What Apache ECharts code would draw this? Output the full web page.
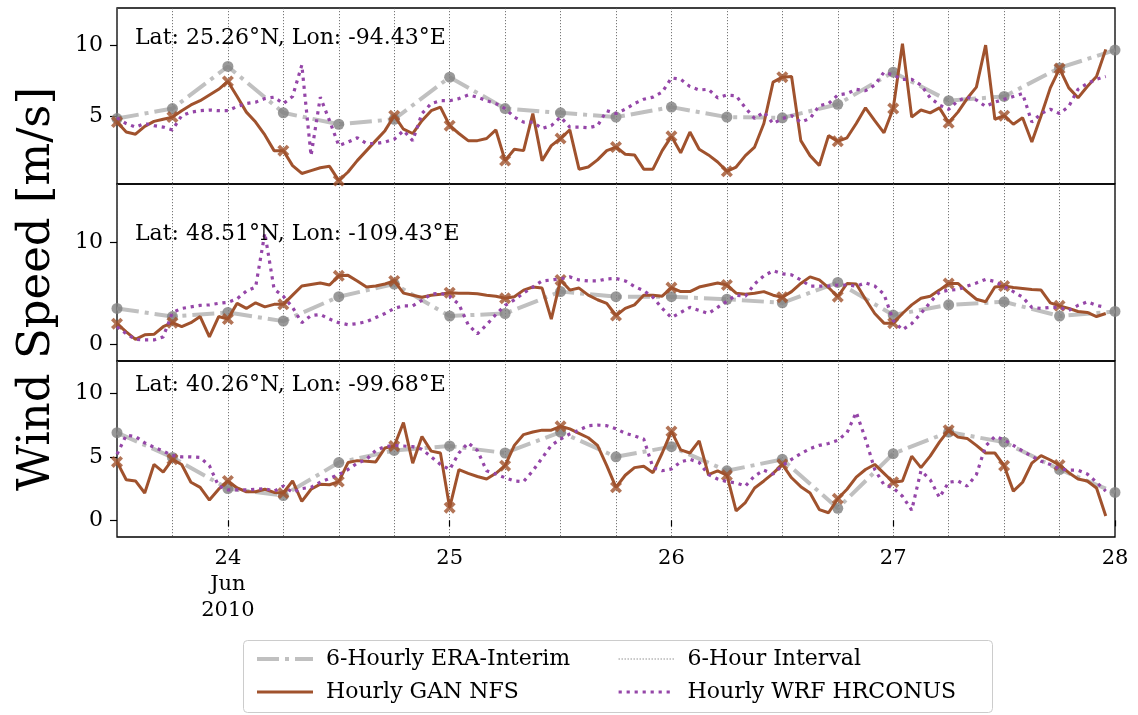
<!DOCTYPE html>
<html>
<head>
<meta charset="utf-8">
<script src="https://cdn.jsdelivr.net/npm/echarts@6/dist/echarts.min.js"></script>
<style>
  html, body { margin: 0; padding: 0; background: #fff; }
  #chart { width: 1138px; height: 715px; }
</style>
</head>
<body>
<div id="chart"></div>
<script>
// Hourly timeline from 2010-06-23 12:00 UTC to 2010-06-28 00:00 UTC
const hourLabels = [];
for (let h = 0; h <= 108; h++) {
  const d = new Date(Date.UTC(2010, 5, 23, 12 + h));
  hourLabels.push(d.toISOString().slice(0, 16).replace('T', ' '));
}
const dayTickLabels = ['24\nJun\n2010', '25', '26', '27', '28'];
const siteLabels = [
  'Lat: 25.26°N, Lon: -94.43°E',
  'Lat: 48.51°N, Lon: -109.43°E',
  'Lat: 40.26°N, Lon: -99.68°E'
];

// 6-hourly ERA-Interim wind speed (m/s), one value every 6 h
const eraTop = [4.85, 5.55, 8.5, 5.25, 4.45, 4.8, 7.75, 5.55, 5.25, 4.95, 5.65, 4.95, 4.9, 5.85, 8.1, 6.1, 6.4, 8.4, 9.65];
const eraMid = [3.5, 2.7, 3.1, 2.25, 4.65, 5.9, 2.75, 3.0, 5.15, 4.65, 4.65, 4.4, 4.05, 6.05, 2.85, 3.85, 4.15, 2.75, 3.2];
const eraBot = [6.9, 4.95, 2.5, 1.95, 4.55, 5.5, 5.85, 5.3, 6.95, 5.0, 5.8, 3.9, 4.8, 0.95, 5.25, 6.95, 6.15, 4.0, 2.2];

// Hourly GAN NFS wind speed (m/s)
const ganTop = [
  4.6, 3.9, 3.75, 4.3, 4.65, 4.8, 4.95, 5.4, 5.8, 6.1,
  6.5, 6.9, 7.45, 6.4, 5.3, 4.6, 3.7, 2.6, 2.6, 1.55,
  1.0, 1.2, 1.4, 1.5, 0.5, 1.1, 1.9, 2.6, 3.3, 4.0,
  5.05, 4.1, 3.8, 4.7, 5.4, 5.65, 4.35, 3.8, 3.3, 3.3,
  3.45, 4.05, 1.9, 2.7, 2.6, 5.2, 1.9, 2.95, 3.45, 4.05,
  1.3, 1.45, 1.95, 2.6, 2.85, 2.35, 2.3, 1.3, 1.3, 2.6,
  3.6, 2.45, 3.9, 2.7, 2.3, 1.8, 1.15, 1.45, 2.25, 2.85,
  4.5, 7.4, 7.75, 7.8, 3.3, 2.25, 1.55, 3.65, 3.25, 3.5,
  4.5, 5.6, 4.7, 3.85, 5.55, 10.1, 4.95, 5.45, 5.25, 5.6,
  4.55, 5.3, 6.25, 7.05, 10.0, 4.8, 5.05, 4.45, 4.9, 3.2,
  5.05, 7.0, 8.35, 7.0, 6.3, 7.1, 7.8, 9.7
];
const ganMid = [
  2.0, 1.2, 0.45, 0.9, 0.95, 1.7, 2.1, 1.7, 2.1, 2.7,
  0.7, 2.7, 2.45, 4.0, 3.5, 4.05, 3.65, 3.9, 3.9, 4.8,
  5.7, 5.85, 6.0, 5.8, 6.7, 6.75, 6.2, 5.6, 5.7, 5.9,
  6.2, 5.0, 4.8, 4.6, 4.8, 4.9, 5.05, 5.0, 5.0, 4.95,
  4.8, 4.7, 4.5, 4.65, 5.3, 5.6, 5.5, 2.45, 6.3, 5.3,
  5.5, 4.8, 4.35, 4.0, 2.8, 3.5, 3.85, 4.8, 4.8, 4.7,
  5.55, 5.15, 5.15, 5.6, 5.8, 6.0, 5.8, 5.0, 4.9, 5.0,
  5.15, 4.8, 4.6, 5.15, 5.95, 6.6, 6.3, 5.55, 4.65, 5.95,
  5.9, 4.4, 3.0, 2.05, 2.05, 3.0, 3.85, 4.5, 4.7, 5.3,
  5.95, 5.95, 5.15, 4.4, 4.15, 5.6, 5.7, 5.55, 5.45, 5.35,
  5.3, 4.05, 3.75, 3.5, 3.2, 3.1, 2.7, 3.0
];
const ganBot = [
  4.6, 3.2, 3.1, 2.15, 4.4, 3.8, 4.8, 4.4, 3.0, 2.6,
  1.6, 2.45, 3.1, 2.55, 2.25, 2.25, 2.45, 2.2, 2.15, 3.1,
  1.5, 2.45, 2.85, 2.8, 3.05, 4.55, 4.7, 4.65, 4.6, 5.7,
  5.85, 7.7, 4.5, 6.6, 5.45, 5.3, 1.0, 4.0, 3.7, 3.45,
  3.25, 3.7, 4.3, 5.9, 6.75, 6.95, 7.1, 7.1, 7.4, 7.2,
  6.85, 6.5, 5.9, 4.3, 2.6, 3.55, 4.15, 4.25, 3.75, 5.3,
  7.0, 5.55, 5.3, 6.25, 3.6, 3.9, 3.55, 0.75, 1.4, 2.55,
  3.1, 3.7, 4.4, 3.35, 2.65, 2.15, 0.85, 0.6, 1.7, 2.45,
  3.4, 4.0, 4.4, 3.7, 3.0, 3.1, 5.05, 4.15, 5.05, 6.15,
  7.1, 6.55, 6.45, 5.9, 5.3, 5.3, 4.3, 2.3, 3.0, 4.5,
  5.1, 4.75, 4.35, 3.75, 3.25, 3.1, 2.55, 0.35
];

// Hourly WRF HRCONUS wind speed (m/s)
const wrfTop = [
  4.9, 4.5, 4.25, 4.5, 4.35, 4.25, 4.05, 5.05, 5.3, 5.4,
  5.45, 5.4, 5.4, 5.7, 5.9, 6.0, 6.25, 6.35, 5.9, 6.4,
  8.6, 2.25, 6.35, 4.7, 2.95, 3.2, 3.5, 3.1, 3.1, 3.2,
  3.4, 4.0, 3.3, 5.2, 5.9, 6.1, 6.1, 6.25, 6.5, 6.35,
  6.1, 5.9, 5.55, 4.95, 4.6, 4.6, 4.15, 4.35, 4.95, 4.25,
  4.25, 4.2, 4.35, 5.4, 5.2, 5.5, 5.9, 6.2, 6.35, 6.7,
  7.7, 7.6, 7.1, 6.85, 6.9, 6.3, 6.5, 6.45, 5.6, 4.85,
  5.3, 4.5, 4.85, 5.05, 4.6, 4.85, 5.75, 5.9, 6.5, 6.6,
  6.9, 6.8, 7.2, 8.1, 7.9, 7.6, 7.6, 7.2, 6.3, 5.8,
  5.5, 6.1, 6.35, 6.15, 5.7, 6.0, 6.2, 6.4, 6.6, 4.6,
  5.2, 5.5, 5.2, 5.7, 6.9, 7.3, 7.6, 7.8
];
const wrfMid = [
  1.7, 1.0, 0.45, 0.4, 0.4, 0.7, 3.1, 3.5, 3.65, 3.8,
  3.85, 4.0, 4.1, 4.45, 5.2, 5.6, 10.9, 5.4, 4.7, 3.6,
  2.1, 2.8, 2.9, 2.45, 2.1, 1.9, 2.0, 2.2, 2.6, 3.0,
  3.5, 3.75, 3.75, 4.3, 4.9, 5.0, 4.7, 3.9, 1.9, 1.0,
  1.9, 2.9, 3.8, 4.35, 5.0, 5.6, 6.2, 6.3, 6.4, 6.6,
  6.3, 6.2, 6.2, 6.4, 6.45, 6.2, 5.65, 5.25, 4.6, 3.5,
  2.6, 3.1, 3.6, 3.3, 3.0, 3.6, 4.2, 4.8, 4.7, 5.9,
  6.7, 7.2, 6.9, 6.8, 6.3, 5.7, 5.7, 5.7, 5.8, 5.8,
  5.7, 6.0, 5.7, 4.9, 2.3, 1.4, 2.0, 3.0, 4.1, 5.1,
  5.3, 5.35, 5.7, 6.0, 6.35, 6.15, 5.65, 5.15, 4.6, 3.6,
  3.5, 3.6, 3.6, 3.3, 3.8, 4.15, 3.8, 3.6
];
const wrfBot = [
  5.2, 6.7, 6.6, 6.1, 5.75, 5.45, 5.1, 5.0, 5.0, 4.95,
  4.3, 2.7, 2.4, 2.4, 2.4, 2.45, 2.5, 2.3, 2.7, 2.2,
  2.5, 2.6, 3.0, 3.3, 3.6, 4.0, 4.5, 4.8, 5.5, 5.8,
  5.9, 5.85, 5.8, 5.6, 5.0, 4.4, 4.0, 5.3, 6.1, 5.5,
  3.9, 3.65, 3.35, 3.1, 3.05, 3.9, 4.9, 5.9, 6.4, 6.8,
  7.1, 7.45, 7.5, 7.45, 7.2, 6.85, 6.65, 6.4, 4.15, 3.9,
  4.05, 4.6, 4.8, 4.55, 3.6, 3.25, 3.05, 2.95, 2.7, 3.5,
  3.95, 3.65, 4.3, 4.8, 5.25, 5.65, 5.9, 6.05, 6.3, 6.9,
  8.5, 6.4, 4.0, 2.8, 2.55, 1.9, 0.8, 3.9, 3.2, 1.8,
  3.0, 3.1, 2.7, 3.6, 5.85, 6.6, 6.35, 5.9, 5.45, 5.05,
  4.65, 4.4, 4.05, 3.95, 3.95, 3.65, 3.0, 2.3
];

const panels = [
  { era: eraTop, gan: ganTop, wrf: wrfTop, ymin: 0.26, ymax: 12.6, ticks: [5, 10] },
  { era: eraMid, gan: ganMid, wrf: wrfMid, ymin: -1.67, ymax: 15.73, ticks: [0, 10] },
  { era: eraBot, gan: ganBot, wrf: wrfBot, ymin: -1.31, ymax: 12.54, ticks: [0, 5, 10] }
];

const FONT = 'DejaVu Serif';
const C_ERA_LINE = '#c0c0c0';
const C_ERA_DOT = '#808080';
const C_GAN = '#a0522d';
const C_WRF = '#9546a8';
const C_GRIDLINE = '#555555';
const X_MARK = 'path://M0,2.2 L2.2,0 L5,2.8 L7.8,0 L10,2.2 L7.2,5 L10,7.8 L7.8,10 L5,7.2 L2.2,10 L0,7.8 L2.8,5 Z';

const ERA_STYLE = { color: C_ERA_LINE, width: 4, type: [22, 6, 4, 6] };
const GAN_STYLE = { color: C_GAN, width: 3 };
const WRF_STYLE = { color: C_WRF, width: 3.2, type: [3.2, 4.8], cap: 'butt' };
const GUIDE_STYLE = { color: C_GRIDLINE, width: 0.8, type: [1.2, 1.8] };

const gridBoxes = [
  { top: 8, height: 176 },
  { top: 184, height: 177 },
  { top: 361, height: 176 }
];

const grids = gridBoxes.map(b => ({
  left: 117, width: 998, top: b.top, height: b.height,
  show: true, borderColor: '#000', borderWidth: 1.3, backgroundColor: 'transparent'
}));

const xAxes = panels.map((p, k) => ({
  type: 'category', gridIndex: k, data: hourLabels, boundaryGap: false,
  axisLine: { show: false },
  axisTick: {
    show: k === 2, length: 6, lineStyle: { color: '#000', width: 1.2 },
    interval: (i) => i % 24 === 12
  },
  axisLabel: {
    show: k === 2, interval: (i) => i % 24 === 12, margin: 9,
    fontFamily: FONT, fontSize: 21, color: '#000', lineHeight: 26,
    formatter: (v, i) => (i % 24 === 12 ? dayTickLabels[(i - 12) / 24] : '')
  },
  splitLine: { show: true, interval: (i) => i % 6 === 0, lineStyle: GUIDE_STYLE }
}));

const yAxes = panels.map((p, k) => ({
  type: 'value', gridIndex: k, min: p.ymin, max: p.ymax,
  axisLine: { show: false },
  splitLine: { show: false },
  axisTick: { show: true, length: 7, customValues: p.ticks, lineStyle: { color: '#000', width: 1.2 } },
  axisLabel: { customValues: p.ticks, margin: 14, fontFamily: FONT, fontSize: 22, color: '#000' }
}));

const series = [];
panels.forEach((p, k) => {
  const eraPts = p.era.map((v, i) => [i * 6, v]);
  const ganPts = p.gan.map((v, i) => [i, v]);
  const wrfPts = p.wrf.map((v, i) => [i, v]);
  series.push({
    name: '6-Hourly ERA-Interim', type: 'line', xAxisIndex: k, yAxisIndex: k,
    data: eraPts, symbol: 'none', z: 2, itemStyle: { color: C_ERA_LINE }, lineStyle: ERA_STYLE
  });
  series.push({
    name: 'ERA-Interim points', type: 'scatter', xAxisIndex: k, yAxisIndex: k,
    data: eraPts, symbol: 'circle', symbolSize: 11, z: 3, itemStyle: { color: C_ERA_DOT }
  });
  series.push({
    name: 'Hourly GAN NFS', type: 'line', xAxisIndex: k, yAxisIndex: k,
    data: ganPts, symbol: 'none', z: 4, itemStyle: { color: C_GAN }, lineStyle: GAN_STYLE
  });
  series.push({
    name: 'GAN NFS 6-hourly', type: 'scatter', xAxisIndex: k, yAxisIndex: k,
    data: ganPts.filter(d => d[0] % 6 === 0), symbol: X_MARK, symbolSize: 12, z: 5,
    itemStyle: { color: C_GAN }
  });
  series.push({
    name: 'Hourly WRF HRCONUS', type: 'line', xAxisIndex: k, yAxisIndex: k,
    data: wrfPts, symbol: 'none', z: 6, itemStyle: { color: C_WRF }, lineStyle: WRF_STYLE
  });
});
// legend entry for the dotted 6-hour guide lines
series.push({
  name: '6-Hour Interval', type: 'line', xAxisIndex: 0, yAxisIndex: 0, data: [],
  symbol: 'none', itemStyle: { color: C_GRIDLINE }, lineStyle: GUIDE_STYLE
});

const hidden = { opacity: 0 };
const legendCommon = {
  orient: 'vertical', top: 647, itemWidth: 56, itemHeight: 24, itemGap: 9,
  padding: 0, selectedMode: false, itemStyle: hidden,
  textStyle: { fontFamily: FONT, fontSize: 22, color: '#000', lineHeight: 24, padding: [0, 0, 0, 8] }
};

const graphics = [
  {
    type: 'rect', z: 0, silent: true,
    shape: { x: 243.5, y: 640.5, width: 749, height: 72, r: 4 },
    style: { fill: '#fff', stroke: '#cccccc', lineWidth: 1 }
  },
  {
    type: 'text', x: 37, y: 289, rotation: Math.PI / 2,
    style: { text: 'Wind Speed [m/s]', fontFamily: FONT, fontSize: 45, fill: '#000', align: 'center', verticalAlign: 'middle' }
  }
];
const labelCenters = [38, 234, 385.5];
siteLabels.forEach((t, k) => {
  graphics.push({
    type: 'text', x: 135, y: labelCenters[k], z: 10,
    style: { text: t, fontFamily: FONT, fontSize: 22, fill: '#000', verticalAlign: 'middle' }
  });
});

const chart = echarts.init(document.getElementById('chart'), null, { renderer: 'canvas' });
chart.setOption({
  animation: false,
  backgroundColor: '#fff',
  grid: grids,
  xAxis: xAxes,
  yAxis: yAxes,
  legend: [
    Object.assign({}, legendCommon, {
      left: 255,
      data: [
        { name: '6-Hourly ERA-Interim', itemStyle: hidden, lineStyle: ERA_STYLE },
        { name: 'Hourly GAN NFS', itemStyle: hidden, lineStyle: GAN_STYLE }
      ]
    }),
    Object.assign({}, legendCommon, {
      left: 617,
      data: [
        { name: '6-Hour Interval', itemStyle: hidden, lineStyle: GUIDE_STYLE },
        { name: 'Hourly WRF HRCONUS', itemStyle: hidden, lineStyle: WRF_STYLE }
      ]
    })
  ],
  graphic: graphics,
  series: series
});
</script>
</body>
</html>
